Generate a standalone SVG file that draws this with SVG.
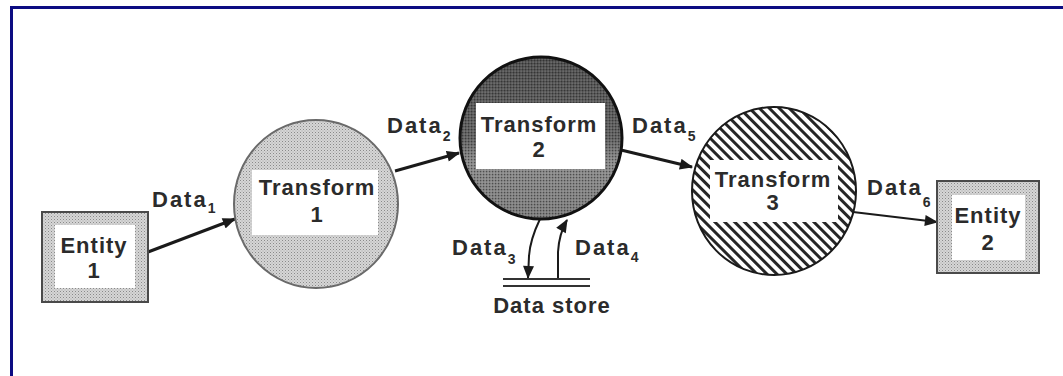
<svg xmlns="http://www.w3.org/2000/svg" width="1063" height="376" viewBox="0 0 1063 376">
  <defs>
    <style>
      .lbl { font-family: "Liberation Sans", Arial, sans-serif; font-weight: bold; fill: #2b2b2b; }
      .name { font-size: 22px; letter-spacing: 1px; text-anchor: middle; }
      .flow { font-size: 22px; letter-spacing: 2px; }
      .sub { font-size: 14px; letter-spacing: 0; }
      .conn { fill: none; stroke: #1a1a1a; stroke-width: 3; }
      .conn-thin { fill: none; stroke: #1a1a1a; stroke-width: 2; }
      .inner { fill: #ffffff; }
    </style>
    <!-- light stipple for entities and transform 1 -->
    <pattern id="stippleLight" width="3" height="3" patternUnits="userSpaceOnUse">
      <rect width="3" height="3" fill="#d6d6d6"/>
      <rect x="0" y="0" width="1" height="1" fill="#8a8a8a"/>
      <rect x="1.5" y="1.5" width="1" height="1" fill="#a8a8a8"/>
    </pattern>
    <!-- darker stipple overlay for transform 2 -->
    <pattern id="stippleDark" width="3" height="3" patternUnits="userSpaceOnUse">
      <rect x="0" y="0" width="1.2" height="1.2" fill="#1e1e1e" opacity="0.55"/>
      <rect x="1.5" y="1.5" width="1.2" height="1.2" fill="#e0e0e0" opacity="0.35"/>
    </pattern>
    <linearGradient id="shade2" x1="0" y1="0" x2="0" y2="1">
      <stop offset="0" stop-color="#4c4c4c"/>
      <stop offset="0.5" stop-color="#5e5e5e"/>
      <stop offset="0.65" stop-color="#8a8a8a"/>
      <stop offset="1" stop-color="#7a7a7a"/>
    </linearGradient>
    <!-- diagonal hatching for transform 3 -->
    <pattern id="hatch" width="7" height="7" patternUnits="userSpaceOnUse" patternTransform="rotate(45)">
      <rect width="7" height="7" fill="#ffffff"/>
      <rect x="0" y="0" width="7" height="3" fill="#262626"/>
    </pattern>
    <marker id="arrow" viewBox="0 0 12 10" refX="11" refY="5" markerWidth="14" markerHeight="11" markerUnits="userSpaceOnUse" orient="auto">
      <path d="M0,0 L12,5 L0,10 Z" fill="#1a1a1a"/>
    </marker>
  </defs>

  <rect width="1063" height="376" fill="#ffffff"/>
  <!-- frame -->
  <rect x="11.5" y="7.5" width="1070" height="380" fill="none" stroke="#0c0c82" stroke-width="3"/>

  <!-- connectors -->
  <g id="connectors">
    <line class="conn" x1="148" y1="252" x2="235" y2="219" marker-end="url(#arrow)"/>
    <line class="conn" x1="395" y1="171" x2="459" y2="153" marker-end="url(#arrow)"/>
    <line class="conn" x1="621" y1="150" x2="692" y2="167" marker-end="url(#arrow)"/>
    <line class="conn-thin" x1="853" y1="212" x2="937" y2="222" marker-end="url(#arrow)"/>
    <path class="conn-thin" d="M540,219 Q530,240 529,256 L528,278" marker-end="url(#arrow)"/>
    <path class="conn-thin" d="M558,279 L558,252 Q559,234 567,220" marker-end="url(#arrow)"/>

    <g id="flow-labels">
      <text class="lbl flow" x="152" y="207">Data<tspan class="sub" dx="0" dy="6">1</tspan></text>
      <text class="lbl flow" x="387" y="133">Data<tspan class="sub" dy="8">2</tspan></text>
      <text class="lbl flow" x="452" y="255">Data<tspan class="sub" dy="9">3</tspan></text>
      <text class="lbl flow" x="575" y="255">Data<tspan class="sub" dy="7">4</tspan></text>
      <text class="lbl flow" x="632" y="133">Data<tspan class="sub" dy="8">5</tspan></text>
      <text class="lbl flow" x="867" y="195">Data<tspan class="sub" dy="12">6</tspan></text>
    </g>
  </g>

  <!-- external entity 1 -->
  <g id="entity1">
    <rect x="42" y="212" width="106" height="90" fill="url(#stippleLight)" stroke="#4a4a4a" stroke-width="2"/>
    <rect class="inner" x="55" y="225" width="80" height="63"/>
    <text class="lbl name" x="94" y="253">Entity</text>
    <text class="lbl name" x="94" y="278">1</text>
  </g>

  <!-- transform 1 -->
  <g id="transform1">
    <ellipse cx="316" cy="204" rx="82" ry="84" fill="url(#stippleLight)" stroke="#6a6a6a" stroke-width="2"/>
    <rect class="inner" x="252" y="170" width="126" height="65"/>
    <text class="lbl name" x="317" y="195">Transform</text>
    <text class="lbl name" x="317" y="222">1</text>
  </g>

  <!-- transform 2 -->
  <g id="transform2">
    <ellipse cx="541" cy="138" rx="81" ry="81" fill="url(#shade2)"/>
    <ellipse cx="541" cy="138" rx="81" ry="81" fill="url(#stippleDark)" stroke="#111111" stroke-width="3"/>
    <rect class="inner" x="476" y="103" width="129" height="66"/>
    <text class="lbl name" x="539" y="132">Transform</text>
    <text class="lbl name" x="539" y="157">2</text>
  </g>

  <!-- transform 3 -->
  <g id="transform3">
    <ellipse cx="774" cy="191" rx="82" ry="84" fill="url(#hatch)" stroke="#1a1a1a" stroke-width="2"/>
    <rect class="inner" x="710" y="160" width="128" height="62"/>
    <text class="lbl name" x="773" y="187">Transform</text>
    <text class="lbl name" x="773" y="210">3</text>
  </g>

  <!-- external entity 2 -->
  <g id="entity2">
    <rect x="937" y="181" width="102" height="92" fill="url(#stippleLight)" stroke="#4a4a4a" stroke-width="2"/>
    <rect class="inner" x="952" y="195" width="73" height="65"/>
    <text class="lbl name" x="988" y="223">Entity</text>
    <text class="lbl name" x="988" y="250">2</text>
  </g>

  <!-- data store -->
  <g id="datastore">
    <line x1="503" y1="279" x2="590" y2="279" stroke="#333333" stroke-width="2"/>
    <line x1="503" y1="286" x2="590" y2="286" stroke="#333333" stroke-width="2"/>
    <text class="lbl name" x="552" y="313">Data store</text>
  </g>
</svg>
